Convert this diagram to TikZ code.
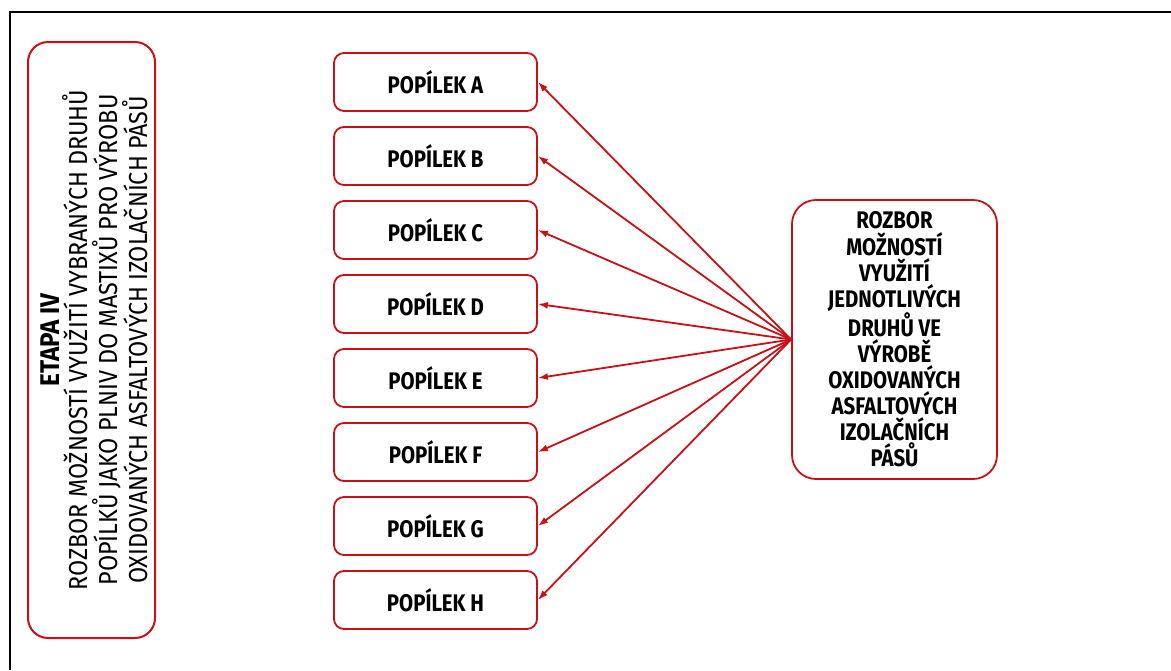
\documentclass[tikz,border=0pt]{standalone}
\usepackage{fontspec}
\setmainfont{Fira Sans}[FakeStretch=0.85]
\newfontfamily\narrowfont{Fira Sans}[FakeStretch=0.9]
\usetikzlibrary{positioning,arrows.meta}
\definecolor{etapared}{RGB}{200,16,22}
\tikzstyle{pop box}=[
    draw = etapared,
    line width = 1.8pt,
    fill = white,
    rounded corners = 10pt,
    minimum width = 203pt,
    minimum height = 58pt,
    font = \fontsize{24}{28}\selectfont\bfseries
]

\begin{document}
\begin{tikzpicture}[x=1pt, y=-1pt, node distance={74pt}, line width=1.8pt,
    link/.style = {draw=etapared, -{Latex[length=10pt,width=7pt]}},
    stage box/.style = {draw=etapared, line width=2pt, rounded corners=20pt, rotate=90,
        minimum width=596pt, minimum height=127pt},
    stage text/.style = {rotate=90, align=center, font=\narrowfont\fontsize{26}{30}\selectfont},
    result box/.style = {draw=etapared, line width=1.8pt, rounded corners=24pt,
        minimum width=205pt, minimum height=279pt, align=center,
        font=\fontsize{24}{26.1}\selectfont\bfseries}]
        \useasboundingbox (0,0) rectangle (1171,670);
        \draw[black, line width=2pt] (10,670) -- (10,12) -- (1171,12);

        \node[stage box] (etapabox) at (91.5,340) {};
        \node[stage text] (etapa) at (94,340) {{\fontsize{27}{30}\selectfont\bfseries ETAPA IV}\\[-2pt]
            ROZBOR MOŽNOSTÍ VYUŽITÍ VYBRANÝCH DRUHŮ\\
            POPÍLKŮ JAKO PLNIV DO MASTIXŮ PRO VÝROBU\\
            OXIDOVANÝCH ASFALTOVÝCH IZOLAČNÍCH PÁSŮ};

        \node[pop box] (a) at (435.5,82) {POPÍLEK A};
        \node[pop box] (b) [below of = a] {POPÍLEK B};
        \node[pop box] (c) [below of = b] {POPÍLEK C};
        \node[pop box] (d) [below of = c] {POPÍLEK D};
        \node[pop box] (e) [below of = d] {POPÍLEK E};
        \node[pop box] (f) [below of = e] {POPÍLEK F};
        \node[pop box] (g) [below of = f] {POPÍLEK G};
        \node[pop box] (h) [below of = g] {POPÍLEK H};

        \node[result box] (rozbor) at (894.5,339.5) {ROZBOR\\MOŽNOSTÍ\\VYUŽITÍ\\JEDNOTLIVÝCH\\DRUHŮ VE\\VÝROBĚ\\OXIDOVANÝCH\\ASFALTOVÝCH\\IZOLAČNÍCH\\PÁSŮ};

        \foreach \p in {a,b,c,d,e,f,g,h}
            \draw[link] (rozbor.west) -- (\p.east);
\end{tikzpicture}
\end{document}
